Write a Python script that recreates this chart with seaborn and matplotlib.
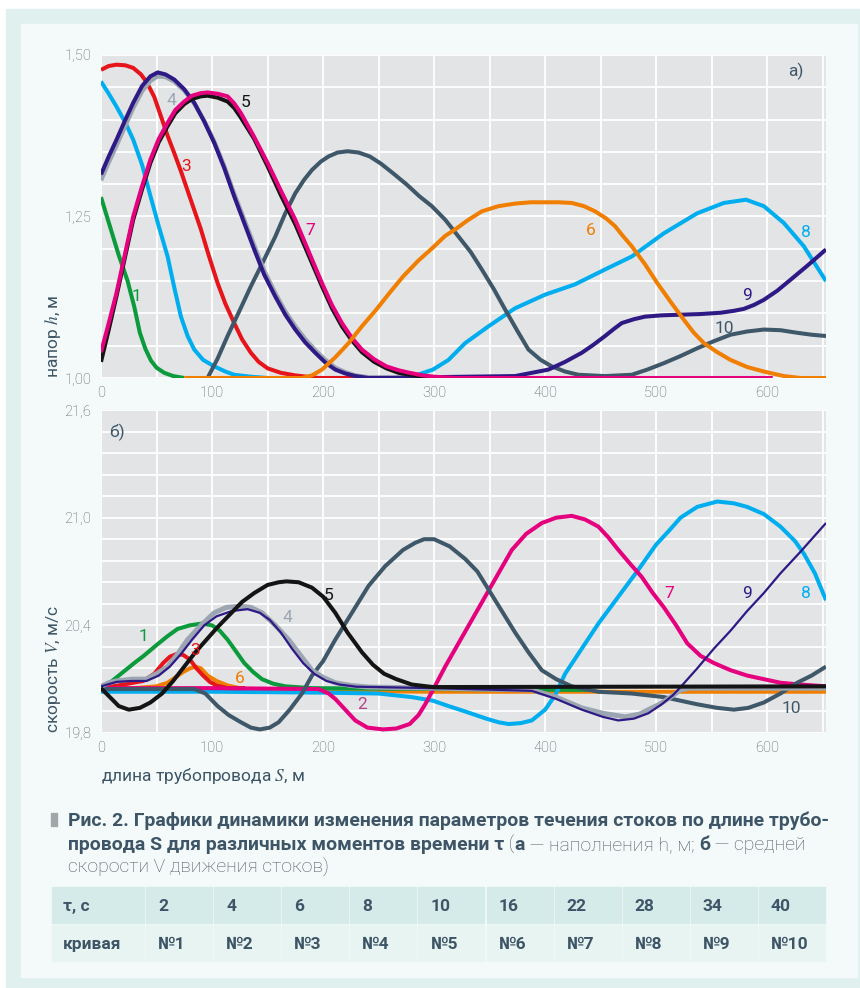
import numpy as np
import pandas as pd
import seaborn as sns
import matplotlib
matplotlib.use("Agg")
import matplotlib.pyplot as plt
from matplotlib import font_manager
from matplotlib.patches import Rectangle
from matplotlib.ticker import MultipleLocator, FuncFormatter

# ---------------- data: panel a) head h, m ----------------
S_h1 = [0, 8, 16, 24, 30, 35, 40, 45, 50, 57, 65, 75]
h1 = [1.28, 1.235, 1.19, 1.15, 1.11, 1.07, 1.045, 1.027, 1.016, 1.008, 1.003, 1.0]

S_h8 = [0, 7, 14, 22, 29, 37, 44, 52, 60, 66, 72, 78, 84, 92, 102, 112, 120, 135, 150, 270,
        285, 299, 313, 328, 349, 373, 400, 427, 454, 478, 507, 537, 561, 581, 597, 615, 633, 653]
h8 = [1.459, 1.44, 1.42, 1.395, 1.369, 1.33, 1.285, 1.235, 1.188, 1.14, 1.095, 1.065, 1.044,
      1.028, 1.018, 1.01, 1.005, 1.002, 1.0, 1.0, 1.005, 1.013, 1.028, 1.054, 1.08, 1.108,
      1.129, 1.145, 1.168, 1.188, 1.224, 1.255, 1.271, 1.276, 1.266, 1.24, 1.204, 1.15]

S_h3 = [0, 7, 14, 22, 29, 36, 41.5, 48, 54, 60, 66, 72, 78, 84, 90, 97, 105, 112, 120, 127,
        135, 142, 150, 162, 175, 196, 410]
h3 = [1.477, 1.483, 1.485, 1.484, 1.48, 1.47, 1.457, 1.435, 1.405, 1.375, 1.348, 1.32, 1.29,
      1.26, 1.23, 1.19, 1.147, 1.115, 1.085, 1.06, 1.039, 1.025, 1.015, 1.008, 1.004, 1.0, 1.0]

S_h9 = [0, 7, 14, 22, 29, 37, 44.5, 51, 58, 66, 75, 84, 93, 102, 111, 120, 129, 138, 147, 157,
        166, 175, 184, 193, 202, 211, 220, 229, 241, 373, 403, 418, 433, 444, 454, 462, 469,
        480, 490, 505, 522, 540, 558, 570, 579, 588, 597, 609, 621, 637, 653]
h9 = [1.315, 1.343, 1.369, 1.40, 1.426, 1.452, 1.467, 1.473, 1.47, 1.462, 1.447, 1.426, 1.397,
      1.364, 1.325, 1.281, 1.24, 1.199, 1.16, 1.126, 1.098, 1.075, 1.055, 1.039, 1.024, 1.013,
      1.007, 1.003, 1.0, 1.003, 1.013, 1.025, 1.039, 1.052, 1.065, 1.076, 1.085, 1.091, 1.095,
      1.097, 1.098, 1.099, 1.101, 1.104, 1.107, 1.113, 1.121, 1.135, 1.152, 1.175, 1.199]

S_h4 = [0, 7, 14, 22, 29, 37, 44.5, 51, 58, 66, 75, 84, 93, 102, 111, 120, 129, 138, 147, 157,
        166, 175, 184, 193, 202, 211, 220, 229, 241, 260]
h4 = [1.306, 1.334, 1.36, 1.391, 1.418, 1.444, 1.46, 1.467, 1.466, 1.459, 1.445, 1.425, 1.398,
      1.366, 1.328, 1.285, 1.245, 1.205, 1.166, 1.131, 1.103, 1.08, 1.06, 1.043, 1.028, 1.016,
      1.009, 1.004, 1.001, 1.0]

S_h5 = [0, 7, 14, 22, 29, 37, 44.5, 52, 60, 67, 75, 82, 90, 96, 105, 114, 120, 126, 138, 150,
        162, 175, 187, 199, 208, 217, 226, 235, 246, 257, 268, 278, 290, 300]
h5 = [1.025, 1.075, 1.127, 1.19, 1.245, 1.292, 1.333, 1.365, 1.39, 1.41, 1.424, 1.432, 1.436,
      1.437, 1.434, 1.428, 1.418, 1.403, 1.37, 1.328, 1.283, 1.238, 1.19, 1.142, 1.108, 1.08,
      1.058, 1.04, 1.025, 1.015, 1.008, 1.005, 1.002, 1.0]

S_h7 = [0, 7, 14, 22, 29, 37, 44.5, 52, 60, 67, 75, 82, 90, 96, 105, 114, 120, 126, 138, 150,
        162, 175, 187, 199, 208, 217, 226, 235, 246, 257, 268, 278, 290, 300, 320, 605]
h7 = [1.04, 1.085, 1.132, 1.195, 1.25, 1.297, 1.338, 1.37, 1.395, 1.415, 1.428, 1.437, 1.441,
      1.442, 1.44, 1.436, 1.425, 1.41, 1.373, 1.333, 1.29, 1.245, 1.196, 1.147, 1.113, 1.085,
      1.062, 1.044, 1.029, 1.018, 1.012, 1.008, 1.004, 1.002, 1.0, 1.0]

S_h10 = [96, 105, 114, 125, 135, 146, 157, 166, 175, 183, 190, 198, 205, 213, 222, 232, 242,
         252, 263, 275, 287, 298, 310, 322, 333, 343, 354, 364, 375, 385, 396, 406, 418, 430,
         454, 478, 492, 507, 522, 537, 552, 567, 582, 597, 612, 627, 640, 653]
h10 = [1.0, 1.03, 1.065, 1.105, 1.142, 1.18, 1.219, 1.255, 1.286, 1.307, 1.322, 1.335, 1.343,
       1.349, 1.351, 1.349, 1.343, 1.332, 1.317, 1.3, 1.281, 1.266, 1.245, 1.219, 1.195, 1.168,
       1.137, 1.106, 1.073, 1.044, 1.028, 1.018, 1.01, 1.005, 1.003, 1.005, 1.013, 1.023, 1.034,
       1.046, 1.057, 1.067, 1.072, 1.075, 1.074, 1.07, 1.067, 1.065]

S_h6 = [75, 181, 190, 199, 211, 223, 235, 248, 260, 272, 286, 299, 310, 319, 331, 343, 358, 373,
        387, 400, 412, 424, 435, 445, 455, 463, 470, 478, 490, 501, 513, 525, 534, 543, 555, 567,
        582, 597, 615, 630, 653]
h6 = [1.0, 1.0, 1.004, 1.013, 1.032, 1.054, 1.08, 1.106, 1.132, 1.157, 1.182, 1.202, 1.22, 1.23,
      1.245, 1.258, 1.266, 1.27, 1.272, 1.272, 1.272, 1.271, 1.266, 1.258, 1.247, 1.235, 1.22,
      1.204, 1.176, 1.147, 1.118, 1.09, 1.07, 1.054, 1.04, 1.028, 1.017, 1.01, 1.003, 1.0, 1.0]

# ---------------- data: panel б) velocity V, m/s ----------------
S_v1 = [0, 10, 20, 30, 38.5, 50, 60, 69, 80, 91, 100, 107, 114, 121, 129, 137, 145, 155, 166,
        190, 300, 440]
v1 = [20.05, 20.09, 20.14, 20.19, 20.23, 20.29, 20.34, 20.38, 20.40, 20.41, 20.40, 20.37, 20.32,
      20.26, 20.19, 20.14, 20.10, 20.075, 20.06, 20.05, 20.045, 20.04]

S_v3 = [0, 20, 38, 48, 56, 62, 68, 74, 80, 86, 92, 98, 104, 114, 130]
v3 = [20.05, 20.07, 20.09, 20.13, 20.19, 20.225, 20.24, 20.235, 20.21, 20.16, 20.12, 20.085,
      20.065, 20.05, 20.05]

S_v6 = [0, 30, 50, 60, 67, 74, 80, 85, 90, 96, 104, 114, 125, 140, 200, 300, 653]
v6 = [20.05, 20.05, 20.06, 20.08, 20.11, 20.14, 20.16, 20.17, 20.16, 20.12, 20.09, 20.065,
      20.05, 20.04, 20.035, 20.03, 20.03]

S_v4 = [0, 7, 14, 28, 41, 50, 60, 69, 78, 90, 102, 113, 125, 135, 145, 157, 169, 180, 190, 200,
        211, 225, 241, 299, 388, 410, 433, 452, 472, 485, 493, 503, 513, 522, 530, 653]
v4 = [20.06, 20.08, 20.09, 20.10, 20.10, 20.13, 20.17, 20.24, 20.32, 20.40, 20.47, 20.50,
      20.506, 20.50, 20.47, 20.40, 20.32, 20.23, 20.15, 20.11, 20.08, 20.065, 20.056, 20.05,
      20.04, 20.0, 19.94, 19.91, 19.89, 19.905, 19.93, 19.96, 20.0, 20.04, 20.05, 20.05]

S_v9 = [0, 14, 28, 41, 52, 62, 72, 82, 93, 104, 118, 132, 143, 152, 162, 172, 182, 192, 203,
        215, 230, 299, 388, 410, 433, 452, 466, 480, 493, 505, 515, 522, 537, 552, 567, 582,
        597, 612, 630, 653]
v9 = [20.06, 20.085, 20.09, 20.09, 20.12, 20.17, 20.24, 20.32, 20.40, 20.45, 20.48, 20.49,
      20.47, 20.43, 20.36, 20.27, 20.19, 20.13, 20.09, 20.07, 20.058, 20.05, 20.035, 19.99,
      19.93, 19.89, 19.87, 19.88, 19.91, 19.96, 20.01, 20.056, 20.16, 20.27, 20.37, 20.48,
      20.58, 20.69, 20.81, 20.97]

S_v5 = [0, 8, 16, 25, 35, 44.5, 55, 65, 75, 85, 95, 105, 116, 127, 138, 150, 160, 167, 178,
        190, 200, 211, 222, 235, 245, 255, 266, 280, 299, 653]
v5 = [20.05, 20.0, 19.95, 19.93, 19.94, 19.97, 20.02, 20.09, 20.17, 20.25, 20.32, 20.39, 20.46,
      20.53, 20.58, 20.625, 20.64, 20.645, 20.64, 20.61, 20.56, 20.47, 20.36, 20.25, 20.18,
      20.13, 20.10, 20.07, 20.056, 20.06]

S_v10 = [0, 84, 94, 105, 115, 126, 135, 143, 152, 160, 170, 181, 190, 200, 211, 226, 241, 256,
         272, 283, 291, 300, 314, 328, 339, 349, 361, 373, 385, 397, 410, 424, 448, 478, 507,
         522, 537, 555, 570, 583, 597, 612, 627, 640, 653]
v10 = [20.045, 20.045, 20.02, 19.95, 19.90, 19.86, 19.83, 19.82, 19.83, 19.86, 19.93, 20.02,
       20.12, 20.20, 20.32, 20.47, 20.62, 20.73, 20.82, 20.86, 20.88, 20.88, 20.84, 20.77, 20.70,
       20.60, 20.48, 20.36, 20.25, 20.15, 20.10, 20.06, 20.03, 20.02, 20.0, 19.98, 19.96, 19.94,
       19.93, 19.94, 19.97, 20.02, 20.08, 20.12, 20.17]

S_v8 = [0, 100, 200, 250, 280, 299, 313, 328, 347, 358, 367, 378, 388, 400, 409, 418, 433, 448,
        466, 484, 500, 512, 522, 537, 555, 570, 582, 597, 612, 625, 633, 643, 653]
v8 = [20.03, 20.03, 20.025, 20.02, 20.0, 19.98, 19.95, 19.92, 19.88, 19.86, 19.85, 19.855,
      19.87, 19.93, 20.01, 20.13, 20.27, 20.41, 20.56, 20.71, 20.85, 20.93, 21.0, 21.06, 21.09,
      21.08, 21.06, 21.02, 20.95, 20.87, 20.80, 20.69, 20.54]

S_v7 = [0, 100, 196, 205, 211, 220, 229, 240, 254, 266, 278, 286, 292, 299, 310, 322, 334, 346,
        358, 370, 383, 397, 410, 424, 436, 448, 457, 466, 477, 487, 497, 507, 518, 528, 540, 552,
        567, 582, 597, 612, 630, 653]
v7 = [20.05, 20.05, 20.045, 20.02, 19.99, 19.93, 19.87, 19.83, 19.82, 19.825, 19.85, 19.90,
      19.96, 20.04, 20.17, 20.30, 20.43, 20.56, 20.69, 20.82, 20.91, 20.97, 21.0, 21.01, 20.99,
      20.95, 20.89, 20.82, 20.74, 20.67, 20.58, 20.50, 20.40, 20.30, 20.23, 20.19, 20.15,
      20.12, 20.10, 20.08, 20.07, 20.06]

# table
tau_values = ["2", "4", "6", "8", "10", "16", "22", "28", "34", "40"]
curve_names = ["№1", "№2", "№3", "№4", "№5", "№6", "№7", "№8", "№9", "№10"]

# ---------------- style ----------------
W, H = 860, 988
GREEN = "#0b9a3c"
LBLUE = "#00aeef"
RED = "#e6141b"
GRAY = "#9ba6b2"
INDIGO = "#2e1985"
BLACK = "#141414"
MAGENTA = "#e5007d"
SLATE = "#3f5869"
ORANGE = "#f07e00"
TXT = "#3d5566"

sns.set_theme(style="white")
avail = {f.name for f in font_manager.fontManager.ttflist}
NARROW = "Liberation Sans Narrow" if "Liberation Sans Narrow" in avail else "Roboto"
FAM = [NARROW, "DejaVu Sans"]
plt.rcParams["font.family"] = FAM
plt.rcParams["mathtext.fontset"] = "stix"

fig = plt.figure(figsize=(W / 100, H / 100), dpi=100)
fig.patch.set_facecolor("white")


def fx(px):
    return px / W


def fy(py):
    return 1 - py / H


fig.patches.append(Rectangle((fx(6), fy(988)), fx(860) - fx(6), fy(9) - fy(988),
                             transform=fig.transFigure, color="#dff0ef", zorder=-10))
fig.patches.append(Rectangle((fx(21), fy(977)), fx(857) - fx(21), fy(24) - fy(977),
                             transform=fig.transFigure, color="#f4fafa", zorder=-9))

ax1 = fig.add_axes([fx(101), fy(378), fx(826) - fx(101), fy(55) - fy(378)])
ax2 = fig.add_axes([fx(101), fy(733), fx(826) - fx(101), fy(410) - fy(733)])


def style_axis(ax, ylo, yhi, ymaj, ymin, fmt):
    ax.set_facecolor("#e3e4e6")
    ax.set_xlim(0, 653)
    ax.set_ylim(ylo, yhi)
    ax.xaxis.set_major_locator(MultipleLocator(100))
    ax.xaxis.set_minor_locator(MultipleLocator(50))
    ax.yaxis.set_major_locator(MultipleLocator(ymaj))
    ax.yaxis.set_minor_locator(MultipleLocator(ymin))
    ax.yaxis.set_major_formatter(FuncFormatter(lambda v, p: fmt.format(v).replace(".", ",")))
    ax.grid(True, which="both", color="white", linewidth=1.3)
    ax.set_axisbelow(True)
    for sp in ax.spines.values():
        sp.set_visible(False)
    ax.tick_params(which="both", length=0, labelsize=10.5, labelcolor="#555b60")
    ax.tick_params(axis="x", pad=6)
    ax.tick_params(axis="y", pad=7)
    for lab in ax.get_xticklabels() + ax.get_yticklabels():
        lab.set_fontweight("light")


style_axis(ax1, 1.0, 1.5, 0.25, 0.05, "{:.2f}")
style_axis(ax2, 19.8, 21.6, 0.6, 0.12, "{:.1f}")


def line(ax, S, v, color, lw, z):
    sns.lineplot(x=S, y=v, ax=ax, color=color, linewidth=lw, zorder=z, sort=False,
                 estimator=None, solid_joinstyle="round", solid_capstyle="butt")


LW = 2.9
# panel a)
line(ax1, S_h1, h1, GREEN, LW, 3)
line(ax1, S_h8, h8, LBLUE, LW, 3)
line(ax1, S_h3, h3, RED, LW, 3)
line(ax1, S_h10, h10, SLATE, LW, 4)
line(ax1, S_h4, h4, GRAY, 3.2, 5)
line(ax1, S_h9, h9, INDIGO, LW, 6)
line(ax1, S_h5, h5, BLACK, LW, 7)
line(ax1, S_h7, h7, MAGENTA, LW, 8)
line(ax1, S_h6, h6, ORANGE, LW, 9)

# panel б)
line(ax2, S_v6, v6, ORANGE, LW, 3)
line(ax2, S_v1, v1, GREEN, LW, 3)
line(ax2, S_v8, v8, LBLUE, LW, 4)
line(ax2, S_v3, v3, RED, LW, 4)
line(ax2, S_v7, v7, MAGENTA, LW, 5)
line(ax2, S_v10, v10, SLATE, LW, 5)
line(ax2, S_v4, v4, GRAY, 3.6, 6)
line(ax2, S_v9, v9, INDIGO, 1.6, 7)
line(ax2, S_v5, v5, BLACK, LW, 8)

lab_kw = dict(fontsize=12.5, ha="center", va="center", zorder=20)
for s, x, y, c in [("1", 31.5, 1.126, GREEN), ("3", 77, 1.327, RED), ("4", 63.7, 1.430, GRAY),
                   ("5", 129.8, 1.426, BLACK), ("7", 188.4, 1.229, MAGENTA),
                   ("6", 441, 1.229, ORANGE), ("8", 635, 1.226, LBLUE),
                   ("9", 582, 1.128, INDIGO), ("10", 561, 1.076, SLATE)]:
    ax1.text(x, y, s, color=c, **lab_kw)
ax1.text(626, 1.474, "а)", color=SLATE, **lab_kw)

for s, x, y, c in [("1", 38, 20.34, GREEN), ("3", 84.7, 20.259, RED), ("6", 125, 20.106, ORANGE),
                   ("4", 168, 20.446, GRAY), ("5", 205, 20.569, BLACK), ("2", 235, 19.96, "#b3448c"),
                   ("7", 512, 20.575, MAGENTA), ("9", 582, 20.575, INDIGO),
                   ("8", 634.5, 20.575, LBLUE), ("10", 621.6, 19.934, SLATE)]:
    ax2.text(x, y, s, color=c, **lab_kw)
ax2.text(14.6, 21.477, "б)", color=SLATE, **lab_kw)

ax1.set_xlabel("")
ax1.set_ylabel("напор $h$, м", loc="bottom", fontsize=12.5, color=TXT)
ax1.yaxis.set_label_coords((63 - 101) / 725, 0)
ax2.set_ylabel("скорость $V$, м/с", loc="bottom", fontsize=12.5, color=TXT)
ax2.yaxis.set_label_coords((63 - 101) / 725, 0)
ax2.set_xlabel("длина трубопровода $S$, м", loc="left", fontsize=12.5, color=TXT, labelpad=8)

# ---------------- caption ----------------
renderer = fig.canvas.get_renderer()
bar_w = fx(57) - fx(51)
fig.patches.append(Rectangle((fx(51), fy(826)), bar_w, fy(813) - fy(826),
                             transform=fig.transFigure, color="#a3a6a8"))


def text_w(s, size, weight):
    t = fig.text(0, 0, s + "|", fontsize=size, fontweight=weight)
    t2 = fig.text(0, 0, "|", fontsize=size, fontweight=weight)
    w = t.get_window_extent(renderer).width - t2.get_window_extent(renderer).width
    t.remove()
    t2.remove()
    return w


line1 = "Рис. 2. Графики динамики изменения параметров течения стоков по длине трубо-"
cap_size = 13.0 * (827 - 68) / text_w(line1, 13.0, "bold")


def runs(x_px, y_px, parts):
    x = x_px
    for s, wgt, col in parts:
        fig.text(fx(x), fy(y_px), s, fontsize=cap_size, fontweight=wgt, color=col,
                 va="baseline", ha="left")
        x += text_w(s, cap_size, wgt)


NORM = "#4b5a64"
runs(68, 826, [(line1, "bold", TXT)])
runs(68, 850, [("провода S для различных моментов времени τ", "bold", TXT),
               (" (", "light", NORM), ("а", "bold", TXT),
               (" — наполнения h, м; ", "light", NORM), ("б", "bold", TXT),
               (" — средней", "light", NORM)])
runs(68, 873, [("скорости V движения стоков)", "light", NORM)])

# ---------------- table ----------------
col0_l, col0_r = 52, 145
col_w = (826 - 145) / 10
rows = [(887, 923, "#d5ebe9", "τ, с", tau_values), (925, 961, "#e8f4f2", "кривая", curve_names)]
for top, bot, bg, head, vals in rows:
    fig.patches.append(Rectangle((fx(col0_l), fy(bot)), fx(col0_r - 1) - fx(col0_l),
                                 fy(top) - fy(bot), transform=fig.transFigure, color=bg))
    fig.text(fx(63), fy((top + bot) / 2), head, fontsize=12.5, fontweight="bold", color=TXT,
             va="center_baseline", ha="left")
    for i, v in enumerate(vals):
        l = col0_r + 1 + i * col_w
        fig.patches.append(Rectangle((fx(l), fy(bot)), fx(col_w - 2), fy(top) - fy(bot),
                                     transform=fig.transFigure, color=bg))
        fig.text(fx(l + 12), fy((top + bot) / 2), v, fontsize=12.5, fontweight="bold",
                 color=TXT, va="center_baseline", ha="left")

fig.savefig("out.png", dpi=100, facecolor=fig.get_facecolor())
